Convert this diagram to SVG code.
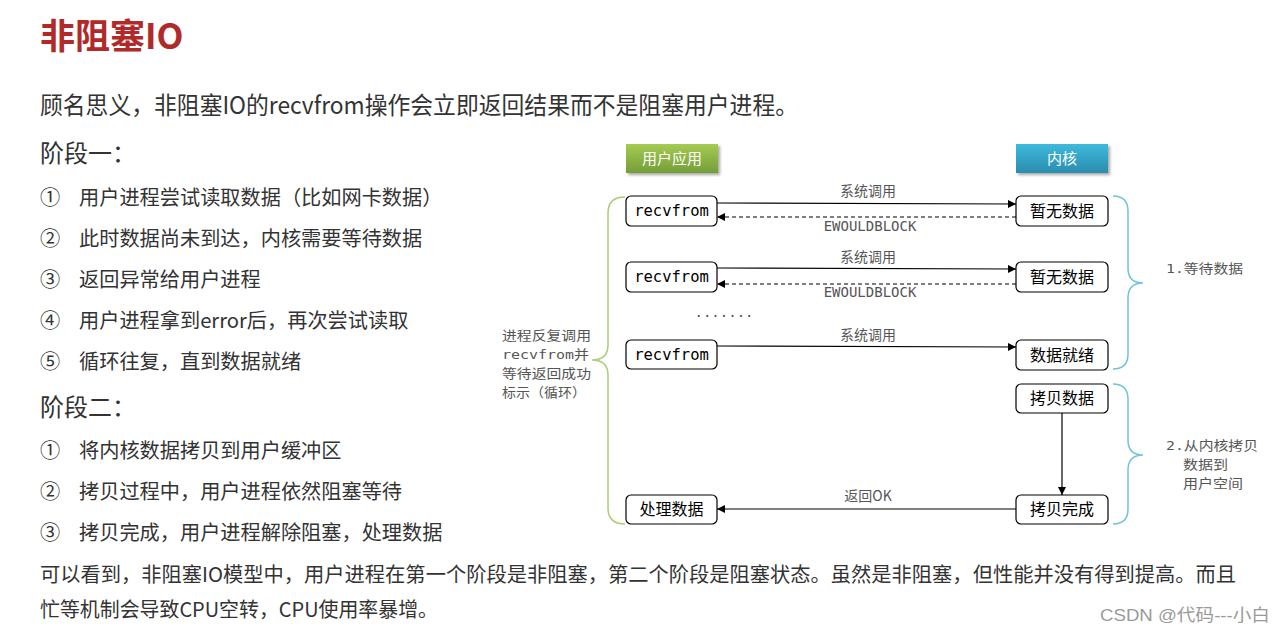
<svg xmlns="http://www.w3.org/2000/svg" width="1283" height="634" viewBox="0 0 1283 634">
<defs>
<linearGradient id="gGreen" x1="0" y1="0" x2="0" y2="1"><stop offset="0" stop-color="#A6CB52"/><stop offset="1" stop-color="#739D38"/></linearGradient>
<linearGradient id="gBlue" x1="0" y1="0" x2="0" y2="1"><stop offset="0" stop-color="#3EBADC"/><stop offset="1" stop-color="#2A8CAE"/></linearGradient>
<filter id="sh" x="-20%" y="-30%" width="140%" height="170%"><feGaussianBlur stdDeviation="1.5"/></filter>
<marker id="ah" viewBox="0 0 8 8" refX="8" refY="4" markerWidth="8" markerHeight="8" markerUnits="userSpaceOnUse" orient="auto"><path d="M0,0 L8,4 L0,8 z" fill="#000"/></marker>
<style>
.cjk{font-family:"Noto Sans CJK SC","Noto Sans",sans-serif;fill:#333}
.title{font-size:35px;font-weight:bold;fill:#B02A2A}
.big{font-size:24px}
.item{font-size:20.2px}
.node{fill:#fff;stroke:#000;stroke-width:1.2}
.nt{font-family:"Noto Sans CJK SC",sans-serif;font-size:16px;fill:#000;text-anchor:middle}
.mono{font-family:"DejaVu Sans Mono","Liberation Mono",monospace}
.nm{font-family:"DejaVu Sans Mono","Liberation Mono",monospace;font-size:15.5px;fill:#000;text-anchor:middle}
.lbl{font-family:"Noto Sans CJK SC",sans-serif;font-size:14px;fill:#555;text-anchor:middle}
.lblm{font-family:"DejaVu Sans Mono","Liberation Mono",monospace;font-size:14px;fill:#555;text-anchor:middle}
.side{font-family:"Noto Sans CJK SC",sans-serif;font-size:13px;fill:#555}
.solid{stroke:#000;stroke-width:1.2;fill:none}
.dash{stroke:#000;stroke-width:1.2;fill:none;stroke-dasharray:4 3}
.hdr{font-family:"Noto Sans CJK SC",sans-serif;font-size:15px;fill:#fff;text-anchor:middle}
</style>
</defs>
<rect width="1283" height="634" fill="#fff"/>

<g id="text-left">
<text class="cjk title" x="40" y="49">非阻塞IO</text>
<text class="cjk big" x="40" y="114" textLength="758" lengthAdjust="spacingAndGlyphs">顾名思义，非阻塞IO的recvfrom操作会立即返回结果而不是阻塞用户进程。</text>
<text class="cjk big" x="40" y="162">阶段一：</text>
<text class="cjk item" x="40" y="205">①</text><text class="cjk item" x="79" y="205">用户进程尝试读取数据（比如网卡数据）</text>
<text class="cjk item" x="40" y="246">②</text><text class="cjk item" x="79" y="246">此时数据尚未到达，内核需要等待数据</text>
<text class="cjk item" x="40" y="287">③</text><text class="cjk item" x="79" y="287">返回异常给用户进程</text>
<text class="cjk item" x="40" y="328">④</text><text class="cjk item" x="79" y="328">用户进程拿到error后，再次尝试读取</text>
<text class="cjk item" x="40" y="369">⑤</text><text class="cjk item" x="79" y="369">循环往复，直到数据就绪</text>
<text class="cjk big" x="40" y="416">阶段二：</text>
<text class="cjk item" x="40" y="458">①</text><text class="cjk item" x="79" y="458">将内核数据拷贝到用户缓冲区</text>
<text class="cjk item" x="40" y="499">②</text><text class="cjk item" x="79" y="499">拷贝过程中，用户进程依然阻塞等待</text>
<text class="cjk item" x="40" y="540">③</text><text class="cjk item" x="79" y="540">拷贝完成，用户进程解除阻塞，处理数据</text>
<text class="cjk item" x="40" y="582" textLength="1196" lengthAdjust="spacingAndGlyphs">可以看到，非阻塞IO模型中，用户进程在第一个阶段是非阻塞，第二个阶段是阻塞状态。虽然是非阻塞，但性能并没有得到提高。而且</text>
<text class="cjk item" x="40" y="617" textLength="398" lengthAdjust="spacingAndGlyphs">忙等机制会导致CPU空转，CPU使用率暴增。</text>
<text x="1100" y="621" style="font-family:'Liberation Sans','Noto Sans CJK SC',sans-serif;font-size:17px;fill:#9a9a9a" textLength="170" lengthAdjust="spacingAndGlyphs">CSDN @代码---小白</text>
</g>

<g id="hdr-user">
<rect x="628" y="146" width="92" height="29" fill="#000" opacity="0.35" filter="url(#sh)"/>
<rect x="626" y="144" width="92" height="29" fill="url(#gGreen)"/>
<text class="hdr" x="672" y="164">用户应用</text>
</g>
<g id="hdr-kernel">
<rect x="1018" y="146" width="92" height="29" fill="#000" opacity="0.35" filter="url(#sh)"/>
<rect x="1016" y="144" width="92" height="29" fill="url(#gBlue)"/>
<text class="hdr" x="1062" y="164">内核</text>
</g>

<g id="connectors">
<line class="solid" x1="717" y1="203" x2="1016" y2="204" marker-end="url(#ah)"/>
<text class="lbl" x="868" y="196">系统调用</text>
<line class="dash" x1="1016" y1="217" x2="717" y2="217" marker-end="url(#ah)"/>
<text class="lblm" x="870" y="231">EWOULDBLOCK</text>

<line class="solid" x1="717" y1="268" x2="1016" y2="269" marker-end="url(#ah)"/>
<text class="lbl" x="868" y="262">系统调用</text>
<line class="dash" x1="1016" y1="284" x2="717" y2="284" marker-end="url(#ah)"/>
<text class="lblm" x="870" y="297">EWOULDBLOCK</text>

<text class="lblm" x="724" y="317">.......</text>

<line class="solid" x1="717" y1="346" x2="1016" y2="347" marker-end="url(#ah)"/>
<text class="lbl" x="868" y="340">系统调用</text>

<line class="solid" x1="1062" y1="413" x2="1062" y2="495" marker-end="url(#ah)"/>

<line class="solid" x1="1016" y1="509" x2="717" y2="509" marker-end="url(#ah)"/>
<text class="lbl" x="868" y="501">返回OK</text>
</g>

<g id="n-recv1"><rect class="node" x="626" y="196" width="91" height="30" rx="5"/><text class="nm" x="671.5" y="216">recvfrom</text></g>
<g id="n-nodata1"><rect class="node" x="1016" y="196" width="92" height="30" rx="5"/><text class="nt" x="1062" y="217">暂无数据</text></g>
<g id="n-recv2"><rect class="node" x="626" y="262" width="91" height="30" rx="5"/><text class="nm" x="671.5" y="282">recvfrom</text></g>
<g id="n-nodata2"><rect class="node" x="1016" y="262" width="92" height="30" rx="5"/><text class="nt" x="1062" y="283">暂无数据</text></g>
<g id="n-recv3"><rect class="node" x="626" y="340" width="91" height="29" rx="5"/><text class="nm" x="671.5" y="360">recvfrom</text></g>
<g id="n-ready"><rect class="node" x="1016" y="340" width="92" height="30" rx="5"/><text class="nt" x="1062" y="361">数据就绪</text></g>
<g id="n-copy"><rect class="node" x="1016" y="384" width="92" height="29" rx="5"/><text class="nt" x="1062" y="404">拷贝数据</text></g>
<g id="n-copydone"><rect class="node" x="1016" y="495" width="92" height="29" rx="5"/><text class="nt" x="1062" y="515">拷贝完成</text></g>
<g id="n-process"><rect class="node" x="626" y="495" width="91" height="29" rx="5"/><text class="nt" x="671.5" y="515">处理数据</text></g>

<g id="brace-left">
<path d="M625,197 Q608,197 608,213 L608,345 Q608,360 592,360 Q608,360 608,375 L608,508 Q608,524 625,524" fill="none" stroke="#A9CD7A" stroke-width="1.5"/>
<text class="side" x="502" y="340" textLength="89" lengthAdjust="spacingAndGlyphs">进程反复调用</text>
<text class="side" x="502" y="359" textLength="87" lengthAdjust="spacingAndGlyphs"><tspan class="mono">recvfrom</tspan>并</text>
<text class="side" x="502" y="378" textLength="89" lengthAdjust="spacingAndGlyphs">等待返回成功</text>
<text class="side" x="502" y="397" textLength="84" lengthAdjust="spacingAndGlyphs">标示（循环）</text>
</g>
<g id="brace-wait">
<path d="M1113,196 Q1128,196 1128,211 L1128,268 Q1128,283 1143,283 Q1128,283 1128,298 L1128,354 Q1128,369 1113,369" fill="none" stroke="#6FC3DD" stroke-width="1.5"/>
<text class="side" x="1166" y="273" textLength="77" lengthAdjust="spacingAndGlyphs"><tspan class="mono">1.</tspan>等待数据</text>
</g>
<g id="brace-copy">
<path d="M1113,384 Q1128,384 1128,399 L1128,440 Q1128,455 1143,455 Q1128,455 1128,470 L1128,509 Q1128,524 1113,524" fill="none" stroke="#6FC3DD" stroke-width="1.5"/>
<text class="side" x="1166" y="450" textLength="92" lengthAdjust="spacingAndGlyphs"><tspan class="mono">2.</tspan>从内核拷贝</text>
<text class="side" x="1183" y="469" textLength="45" lengthAdjust="spacingAndGlyphs">数据到</text>
<text class="side" x="1183" y="488" textLength="60" lengthAdjust="spacingAndGlyphs">用户空间</text>
</g>
</svg>
